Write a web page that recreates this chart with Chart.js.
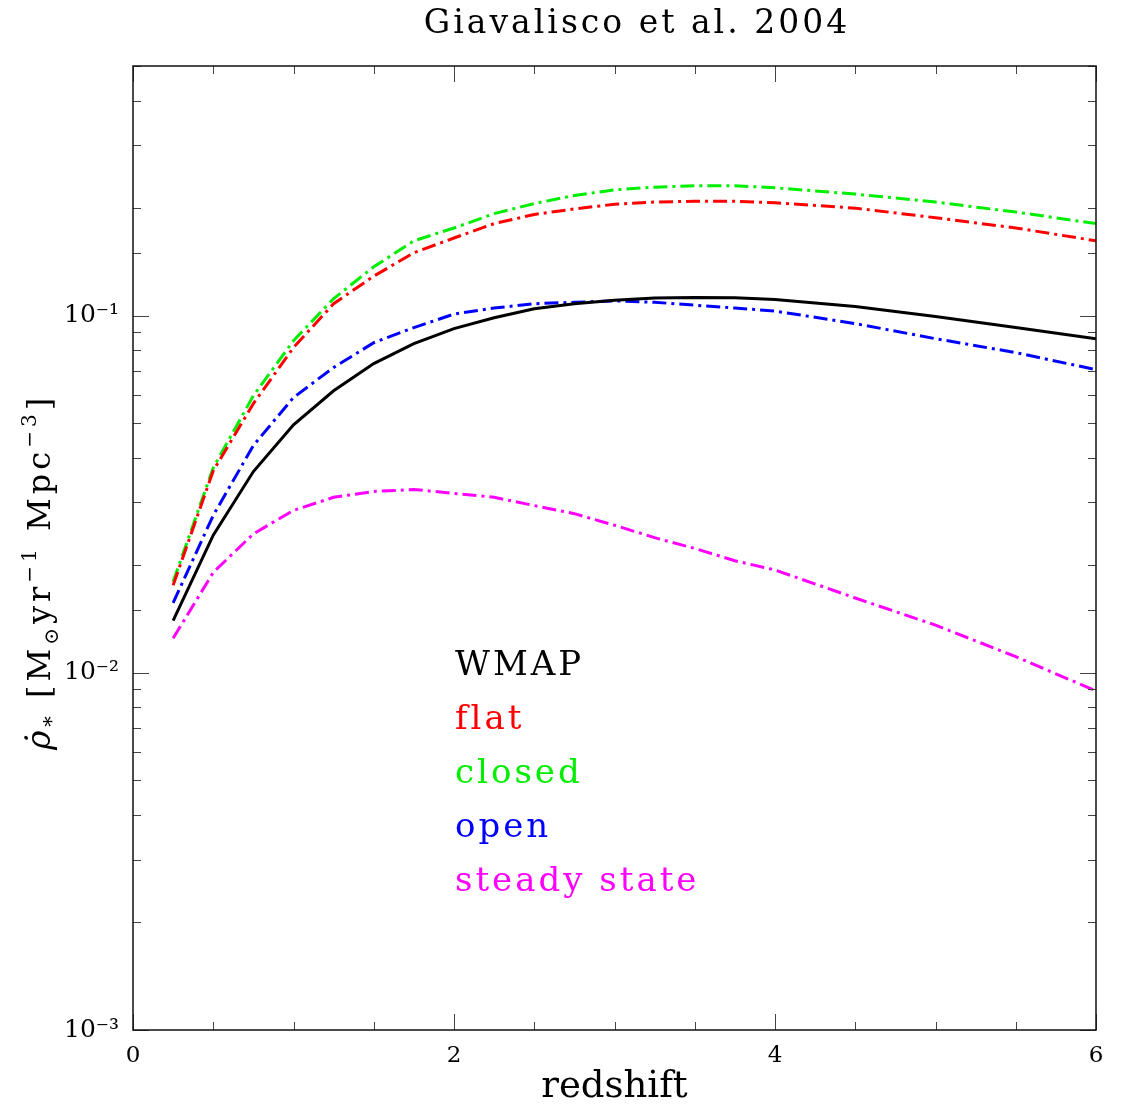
<!DOCTYPE html>
<html>
<head>
<meta charset="utf-8">
<script src="https://cdn.jsdelivr.net/npm/chart.js@4.4.1/dist/chart.umd.min.js"></script>
<style>
  html, body { margin: 0; padding: 0; background: #fff; }
  #wrap { width: 1123px; height: 1113px; }
</style>
</head>
<body>
<div id="wrap"><canvas id="sfrChart" width="1123" height="1113"></canvas></div>
<script>
// ===== DATA =====
const redshift = [0.25, 0.5, 0.75, 1.0, 1.25, 1.5, 1.75, 2.0, 2.25, 2.5, 2.75, 3.0, 3.25, 3.5, 3.75, 4.0, 4.5, 5.0, 5.5, 6.0];

const wmap   = [0.0140, 0.0243, 0.0366, 0.0495, 0.0616, 0.0734, 0.0835, 0.0920, 0.0987, 0.1046, 0.1080, 0.1105, 0.1120, 0.1125, 0.1122, 0.1110, 0.1060, 0.0994, 0.0926, 0.0862];
const flat   = [0.0176, 0.0368, 0.0567, 0.0814, 0.1080, 0.1290, 0.1500, 0.1650, 0.1810, 0.1920, 0.1990, 0.2050, 0.2080, 0.2090, 0.2090, 0.2070, 0.2000, 0.1880, 0.1760, 0.1620];
const closed = [0.0180, 0.0375, 0.0597, 0.0851, 0.1116, 0.1370, 0.1620, 0.1760, 0.1930, 0.2060, 0.2170, 0.2250, 0.2290, 0.2310, 0.2310, 0.2280, 0.2190, 0.2080, 0.1950, 0.1810];
const open   = [0.0157, 0.0276, 0.0433, 0.0590, 0.0716, 0.0840, 0.0926, 0.1010, 0.1050, 0.1080, 0.1090, 0.1100, 0.1090, 0.1070, 0.1050, 0.1030, 0.0950, 0.0862, 0.0788, 0.0706];
const steady = [0.0125, 0.0191, 0.0245, 0.0285, 0.0310, 0.0322, 0.0326, 0.0318, 0.0310, 0.0294, 0.0279, 0.0259, 0.0239, 0.0223, 0.0206, 0.0194, 0.0162, 0.0136, 0.0111, 0.0089];

const seriesLabels = ["WMAP", "flat", "closed", "open", "steady state"];
const seriesColors = ["#000000", "#ff0000", "#00ee00", "#0000ff", "#ff00ff"];

const xTickLabels = ["0", "2", "4", "6"];

const FONT = "'DejaVu Serif', serif";
const dashDot = [14, 5, 3, 5];

const toPoints = vals => vals.map((v, i) => ({ x: redshift[i], y: v }));

const supDigits = { "-": "\u207B", "0": "\u2070", "1": "\u00B9", "2": "\u00B2", "3": "\u00B3",
    "4": "\u2074", "5": "\u2075", "6": "\u2076", "7": "\u2077", "8": "\u2078", "9": "\u2079" };
const sup = s => String(s).split("").map(c => supDigits[c] || c).join("");

const isDecade = v => {
    const e = Math.log10(v);
    return Math.abs(e - Math.round(e)) < 1e-6;
};

// ===== FRAME + INWARD TICKS =====
const frameTicks = {
    id: "frameTicks",
    afterDatasetsDraw(chart) {
        const { ctx, chartArea: a, scales: { x, y } } = chart;
        ctx.save();
        ctx.strokeStyle = "#444";
        ctx.lineWidth = 1;
        ctx.beginPath();
        x.ticks.forEach(t => {
            const px = Math.round(x.getPixelForValue(t.value)) + 0.5;
            const len = t.value % 2 === 0 ? 16 : 8;
            ctx.moveTo(px, a.bottom); ctx.lineTo(px, a.bottom - len);
            ctx.moveTo(px, a.top); ctx.lineTo(px, a.top + len);
        });
        y.ticks.forEach(t => {
            const py = Math.round(y.getPixelForValue(t.value)) + 0.5;
            const len = isDecade(t.value) ? 16 : 8;
            ctx.moveTo(a.left, py); ctx.lineTo(a.left + len, py);
            ctx.moveTo(a.right, py); ctx.lineTo(a.right - len, py);
        });
        ctx.stroke();
        ctx.strokeStyle = "#111";
        ctx.lineWidth = 1.5;
        ctx.strokeRect(a.left, a.top, a.right - a.left, a.bottom - a.top);
        ctx.restore();
    }
};

// ===== TITLE, Y TITLE, IN-PLOT LEGEND =====
const textLayer = {
    id: "textLayer",
    afterDraw(chart) {
        const { ctx, chartArea: a, scales: { x } } = chart;
        ctx.save();
        ctx.fillStyle = "#000";

        // title
        ctx.font = "33px " + FONT;
        ctx.letterSpacing = "3px";
        ctx.textAlign = "center";
        ctx.textBaseline = "alphabetic";
        ctx.fillText("Giavalisco et al. 2004", 637, 33);

        // rotated y title:  rho-dot_* [M_sun yr^-1 Mpc^-3]
        const parts = [
            { t: "\u03C1\u0307", size: 33, dy: 0, italic: true },
            { t: "*", size: 21, dy: 8 },
            { t: " [M", size: 32, dy: 0 },
            { t: "\u2299", size: 20, dy: 8 },
            { t: "yr", size: 32, dy: 0 },
            { t: "\u22121", size: 20, dy: -14 },
            { t: " Mpc", size: 32, dy: 0 },
            { t: "\u22123", size: 20, dy: -14 },
            { t: "]", size: 32, dy: 0 }
        ];
        const fontOf = p => (p.italic ? "italic " : "") + p.size + "px " + FONT;
        ctx.letterSpacing = "4px";
        let total = 0;
        parts.forEach(p => { ctx.font = fontOf(p); p.w = ctx.measureText(p.t).width; total += p.w; });
        ctx.translate(50, 572);
        ctx.rotate(-Math.PI / 2);
        ctx.textAlign = "left";
        let cx = -total / 2;
        parts.forEach(p => {
            ctx.font = fontOf(p);
            ctx.fillText(p.t, cx, p.dy);
            cx += p.w;
        });
        ctx.setTransform(1, 0, 0, 1, 0, 0);

        // legend text inside the plot
        ctx.font = "34px " + FONT;
        ctx.letterSpacing = "3px";
        ctx.textAlign = "left";
        const lx = x.getPixelForValue(2.0) + 1;
        chart.data.datasets.forEach((ds, i) => {
            ctx.fillStyle = ds.borderColor;
            ctx.fillText(ds.label, lx, a.top + 609 + 54 * i);
        });
        ctx.restore();
    }
};

const allSeries = [wmap, flat, closed, open, steady];

const datasets = allSeries.map((vals, i) => ({
    label: seriesLabels[i],
    data: toPoints(vals),
    borderColor: seriesColors[i],
    borderWidth: 3,
    borderDash: i === 0 ? [] : dashDot,
    pointRadius: 0,
    tension: 0,
    fill: false
}));

new Chart(document.getElementById("sfrChart"), {
    type: "line",
    data: { datasets },
    options: {
        responsive: false,
        animation: false,
        layout: { padding: { top: 66, right: 27, left: 0, bottom: 0 } },
        plugins: {
            legend: { display: false },
            title: { display: false },
            tooltip: { enabled: false }
        },
        scales: {
            x: {
                type: "linear",
                min: 0,
                max: 6,
                grid: { display: false, drawTicks: false },
                border: { display: false },
                ticks: {
                    stepSize: 0.5,
                    autoSkip: false,
                    maxRotation: 0,
                    padding: 12,
                    color: "#000",
                    font: { family: FONT, size: 23 },
                    callback: v => (v % 2 === 0 ? xTickLabels[v / 2] : "")
                },
                title: {
                    display: true,
                    text: "redshift",
                    color: "#000",
                    font: { family: FONT, size: 37 },
                    padding: { top: 0, bottom: 3 }
                },
                afterFit: s => { s.height = 83; }
            },
            y: {
                type: "logarithmic",
                min: 0.001,
                max: 0.5,
                grid: { display: false, drawTicks: false },
                border: { display: false },
                ticks: {
                    autoSkip: false,
                    padding: 14,
                    color: "#000",
                    font: { family: FONT, size: 25 },
                    callback: v => (isDecade(v) ? "10" + sup(Math.round(Math.log10(v))) : "")
                },
                afterFit: s => { s.width = 133; }
            }
        }
    },
    plugins: [frameTicks, textLayer]
});
</script>
</body>
</html>
